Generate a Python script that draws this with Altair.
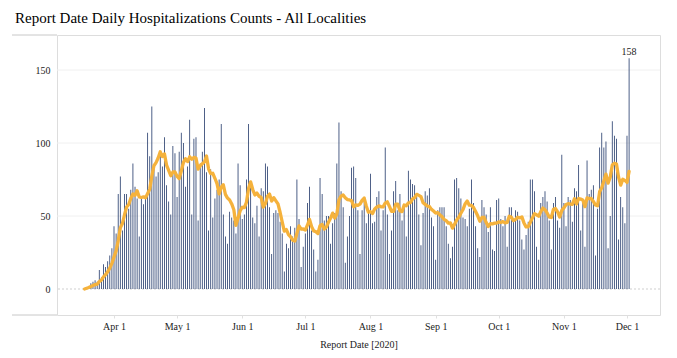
import altair as alt
import pandas as pd

START = "2020-03-18"
MAR = [0, 1, 2, 4, 5, 6, 5, 13, 8, 17, 15, 19, 23, 28]
APR = [43, 38, 65, 77, 40, 65, 65, 55, 68, 86, 70, 62, 36, 62, 58, 63, 107, 91, 125, 85,
       77, 80, 93, 84, 104, 71, 60, 51, 98, 93]
MAY = [63, 94, 107, 100, 70, 84, 116, 51, 103, 104, 47, 86, 94, 124, 80, 40, 82, 49, 62, 68,
       75, 113, 51, 36, 31, 53, 49, 47, 38, 86, 71]
JUN = [48, 51, 75, 113, 70, 49, 45, 57, 36, 69, 67, 86, 84, 56, 24, 52, 54, 52, 46, 38,
       12, 31, 28, 43, 36, 42, 75, 48, 15, 29]
JUL = [38, 59, 70, 40, 27, 12, 20, 76, 65, 47, 50, 50, 31, 45, 52, 86, 114, 67, 56, 18,
       36, 50, 83, 84, 76, 54, 24, 54, 61, 45, 54]
AUG = [79, 45, 46, 63, 67, 40, 54, 97, 51, 24, 40, 67, 74, 54, 65, 47, 56, 36, 81, 75,
       72, 71, 63, 51, 30, 52, 67, 64, 69, 49, 43]
SEP = [20, 54, 56, 56, 56, 43, 31, 21, 29, 75, 76, 69, 62, 49, 48, 43, 55, 75, 59, 43,
       28, 22, 61, 56, 51, 39, 56, 27, 26, 61]
OCT = [62, 48, 43, 50, 29, 56, 56, 46, 54, 53, 47, 34, 27, 37, 46, 75, 75, 67, 29, 20,
       59, 63, 67, 60, 47, 27, 59, 63, 47, 42, 92]
NOV = [59, 43, 63, 61, 46, 69, 67, 85, 40, 59, 29, 88, 65, 68, 71, 23, 55, 97, 107, 97,
       101, 28, 50, 115, 105, 103, 34, 63, 56, 45]
DEC = [105, 158]

Y_TICKS = [0, 50, 100, 150]
GRID_VALUES = [0, 50, 100, 150]
TITLE = "Report Date Daily Hospitalizations Counts - All Localities"
X_TITLE = "Report Date [2020]"

counts = MAR + APR + MAY + JUN + JUL + AUG + SEP + OCT + NOV + DEC
dates = pd.date_range(START, periods=len(counts), freq="D")
df = pd.DataFrame({"date": dates.strftime("%Y-%m-%dT00:00:00"), "count": counts})

FONT = "Liberation Serif"
W, H = 603, 280

x_scale = alt.Scale(domain=[alt.DateTime(year=2020, month=3, date=4, hours=21, minutes=20),
                            alt.DateTime(year=2020, month=12, date=16, hours=16, minutes=50)],
                    padding=0, nice=False)
y_scale = alt.Scale(domain=[-17.8, 174], nice=False, zero=False, padding=0)

month_ticks = [alt.DateTime(year=2020, month=m, date=1) for m in range(4, 13)]

base = alt.Chart(df)

grid_df = pd.DataFrame({"v": GRID_VALUES})
grid = alt.Chart(grid_df).transform_filter("datum.v != 0").mark_rule(
    color="#f0f0f0", strokeWidth=1
).encode(
    y=alt.Y("v:Q", scale=y_scale,
            axis=alt.Axis(values=Y_TICKS, title=None, labelFont=FONT, labelFontSize=10,
                          labelColor="#222", ticks=False, domain=False, grid=False,
                          labelPadding=7)),
)

zero = alt.Chart(grid_df).transform_filter("datum.v == 0").mark_rule(
    color="#cfcfcf", strokeWidth=1, strokeDash=[2, 2]
).encode(y=alt.Y("v:Q", scale=y_scale))

bars = base.mark_bar(color="#22396a", size=0.8).encode(
    x=alt.X("date:T", scale=x_scale,
            axis=alt.Axis(values=month_ticks, format="%b %-d", title=X_TITLE,
                          labelFont=FONT, labelFontSize=10, labelColor="#222",
                          titleFont=FONT, titleFontSize=10, titleFontWeight="normal",
                          titleColor="#222", titlePadding=8,
                          tickColor="#e0e0e0", tickSize=3, labelPadding=3,
                          domain=False, grid=False, labelFlush=False)),
    y=alt.Y("count:Q", scale=y_scale),
)

line = base.transform_window(
    ma="mean(count)", frame=[-6, 0], sort=[alt.SortField("date")]
).mark_line(color="#F5B23C", strokeWidth=3.3, strokeJoin="round", strokeCap="round").encode(
    x=alt.X("date:T", scale=x_scale),
    y=alt.Y("ma:Q", scale=y_scale),
)

peak = base.transform_joinaggregate(mx="max(count)").transform_filter(
    "datum.count == datum.mx"
).mark_text(font=FONT, fontSize=10, color="#222", baseline="alphabetic", dy=-3).encode(
    x=alt.X("date:T", scale=x_scale),
    y=alt.Y("count:Q", scale=y_scale),
    text=alt.Text("count:Q"),
)

title = alt.Chart(pd.DataFrame({"t": [TITLE]})).mark_text(
    font=FONT, fontSize=15, color="#000", align="left", baseline="alphabetic"
).encode(x=alt.value(-42), y=alt.value(-12), text="t:N")

frame_top = alt.Chart(pd.DataFrame({"v": [0]})).mark_rule(color="#c8c8c8", strokeWidth=1).encode(
    x=alt.value(-45), x2=alt.value(0), y=alt.value(0))
frame_bot = alt.Chart(pd.DataFrame({"v": [0]})).mark_rule(color="#c8c8c8", strokeWidth=1).encode(
    x=alt.value(-45), x2=alt.value(0), y=alt.value(H))

chart = alt.layer(grid, zero, bars, line, peak, title, frame_top, frame_bot).properties(
    width=W, height=H,
    autosize=alt.AutoSizeParams(type="none"),
    padding={"left": 49, "top": 27, "right": 9, "bottom": 35},
).configure_view(stroke="#c8c8c8", strokeWidth=1).configure(background="white")

chart.save("out.html", embed_options={"renderer": "svg", "actions": False})
